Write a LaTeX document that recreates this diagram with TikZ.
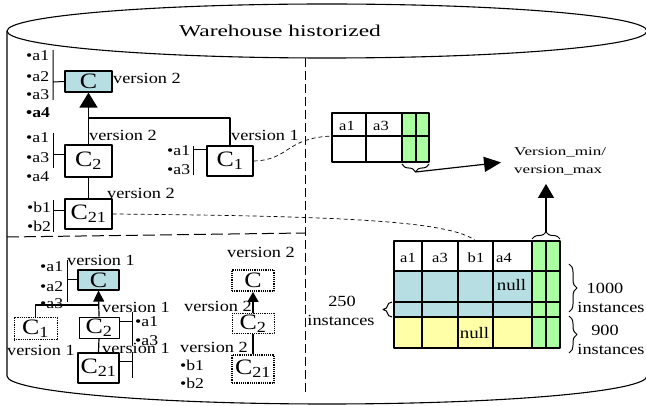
\documentclass[tikz,border=0pt]{standalone}
\usepackage{fontspec}
\setmainfont{Liberation Serif}[FakeStretch=1.18]
\newfontfamily\widefont{Liberation Serif}[FakeStretch=1.42]
\usetikzlibrary{arrows.meta, decorations.pathreplacing}

\definecolor{clscyan}{RGB}{183,222,226}
\definecolor{rowyellow}{RGB}{255,255,168}
\definecolor{vergreen}{RGB}{170,255,160}

\tikzset{
  cls/.style={draw, line width=1.2pt, inner sep=0pt, font=\fontsize{22}{22}\selectfont},
  txt/.style={anchor=west, inner sep=0pt, font=\fontsize{15.5}{15.5}\selectfont},
  attr/.style={anchor=west, inner sep=0pt, font=\fontsize{15}{15}\selectfont},
  cell/.style={inner sep=0pt, font=\fontsize{14}{14}\selectfont},
  bracket/.style={line width=1pt},
  link/.style={line width=1.2pt},
  dash line/.style={dash pattern=on 4pt off 3pt, line width=0.7pt},
  brc/.style={decorate, decoration={brace, amplitude=#1}, line width=1pt},
  brc/.default=7pt,
}

\begin{document}
\begin{tikzpicture}[x=1pt, y=-1pt, line join=round]
    \useasboundingbox (0,0) rectangle (646,406);

    % cylinder
    \draw[line width=1.1pt] (327,31) ellipse [x radius=320, y radius=27];
    \draw[line width=1.1pt] (7,31) -- (7,376) arc[start angle=180, end angle=0, x radius=320, y radius=28] -- (647,31);
    \node[font=\widefont\fontsize{16.5}{16.5}\selectfont, inner sep=0pt] (title) at (280,31) {Warehouse historized};

    % dividers
    \draw[line width=1pt, dash pattern=on 9pt off 4pt] (305,58) -- (305,395);
    \draw[line width=1pt, dash pattern=on 12pt off 5pt] (7,237) -- (305,233);

    % upper part: classes
    \node[cls, fill=clscyan, minimum width=47pt, minimum height=21pt] (cTop) at (88.5,81.5) {C};
    \node[cls, minimum width=47pt, minimum height=32pt] (c2Top) at (88.5,161) {C\textsubscript{2}};
    \node[cls, minimum width=46pt, minimum height=30pt] (c1Top) at (230,161) {C\textsubscript{1}};
    \node[cls, minimum width=47pt, minimum height=30pt] (c21Top) at (88.5,214) {C\textsubscript{21}};

    \coordinate (joinTop) at (88.5,118);
    \draw[line width=1.5pt, -{Triangle[width=18pt,length=15pt]}] (c2Top.north) -- (cTop.south);
    \draw[link] (c1Top.north) |- (joinTop);
    \draw[link] (c2Top.south) -- (c21Top.north);

    \draw[bracket] (53,50) -- (53,100) (53,82) -- (cTop.west);
    \draw[bracket] (53,133) -- (53,168) (53,155) -- (c2Top.west |- 0,155);
    \draw[bracket] (193,146) -- (193,175) (193,150) -- (c1Top.west |- 0,150);
    \draw[bracket] (53,200) -- (53,232) (53,211) -- (c21Top.west |- 0,211);

    \node[txt] (v2a) at (113,78) {version 2};
    \node[txt] (v2b) at (89,135) {version 2};
    \node[txt] (v1a) at (231,135) {version 1};
    \node[txt] (v2c) at (107,193) {version 2};

    \node[attr] (a1a) at (26,56) {\textbullet a1};
    \node[attr] (a2a) at (26,77) {\textbullet a2};
    \node[attr] (a3a) at (26,95) {\textbullet a3};
    \node[attr] (a4a) at (26,113) {\textbf{\textbullet a4}};
    \node[attr] (a1b) at (26,138) {\textbullet a1};
    \node[attr] (a3b) at (26,158) {\textbullet a3};
    \node[attr] (a4b) at (26,177) {\textbullet a4};
    \node[attr] (a1c) at (167,151) {\textbullet a1};
    \node[attr] (a3c) at (167,170) {\textbullet a3};
    \node[attr] (b1a) at (27,207) {\textbullet b1};
    \node[attr] (b2a) at (27,226) {\textbullet b2};

    % small table
    \fill[vergreen] (402,113) rectangle (429,162);
    \draw[line width=1.2pt] (332,113) rectangle (429,162) (332,136) -- (429,136);
    \foreach \x in {366,402,416}
        \draw[line width=1.2pt] (\x,113) -- (\x,162);
    \node[cell] (h1s) at (347,126) {a1};
    \node[cell] (h2s) at (381,126) {a3};

    % big table
    \fill[clscyan] (394,271) rectangle (532,317);
    \fill[rowyellow] (394,317) rectangle (532,348);
    \fill[vergreen] (532,241) rectangle (560,348);
    \draw[line width=1.5pt] (394,241) rectangle (560,348);
    \foreach \y in {271,302,317}
        \draw[line width=1.5pt] (394,\y) -- (560,\y);
    \foreach \x in {422,458,493,532,546}
        \draw[line width=1.5pt] (\x,241) -- (\x,348);
    \node[cell] (h1b) at (408,258) {a1};
    \node[cell] (h2b) at (440,258) {a3};
    \node[cell] (h3b) at (476,258) {b1};
    \node[cell] (h4b) at (504,258) {a4};
    \node[cell, font=\fontsize{16}{16}\selectfont] (nullA) at (511.5,285) {null};
    \node[cell, font=\fontsize{16}{16}\selectfont] (nullB) at (474.5,333) {null};

    % links to tables
    \coordinate (smallIn) at (332,136);
    \coordinate (bigIn) at (476,241);
    \draw[dash line] (c1Top.east) .. controls (290,160) and (285,138) .. (smallIn);
    \draw[dash line] (c21Top.east) .. controls (330,216) and (450,220) .. (bigIn);

    % version columns
    \node[font=\widefont\fontsize{12}{18}\selectfont, align=left, anchor=west, inner sep=0pt] (verT) at (514,161) {Version\_min/\\version\_max};
    \draw[brc=8pt] (429,164) -- (402,164);
    \draw[brc] (532,239) -- (560,239);
    \coordinate (brSmall) at (415.5,172);
    \coordinate (brBig) at (546,232);
    \draw[link, shorten >=13pt, -{Triangle[width=15pt,length=17pt]}] (brSmall) -- (verT.west);
    \draw[link, shorten >=9pt, -{Triangle[width=16pt,length=14pt]}] (brBig) -- (brBig |- verT.south);

    % instance counts
    \draw[brc=8pt] (569,264) -- (569,312);
    \draw[brc=8pt] (569,316) -- (569,353);
    \draw[brc=9pt] (392,317) -- (392,302);
    \node[txt, anchor=center] (n1000) at (605,288) {1000};
    \node[txt, anchor=center] (inst1) at (611,307) {instances};
    \node[txt, anchor=center] (n900) at (605,330) {900};
    \node[txt, anchor=center] (inst2) at (611,349) {instances};
    \node[txt, anchor=center] (n250) at (342,301) {250};
    \node[txt, anchor=center] (inst3) at (341,320) {instances};

    % lower part: classes
    \node[cls, fill=clscyan, minimum width=41pt, minimum height=20pt] (cLow) at (98.5,280) {C};
    \node[cls, densely dotted, line width=1pt, minimum width=43pt, minimum height=22pt] (c1Low) at (35.5,329) {C\textsubscript{1}};
    \node[cls, line width=0.8pt, minimum width=40pt, minimum height=21pt] (c2Low) at (99,327.5) {C\textsubscript{2}};
    \node[cls, line width=1.5pt, minimum width=41pt, minimum height=30pt] (c21Low) at (98.5,368) {C\textsubscript{21}};
    \node[cls, densely dotted, line width=1.8pt, minimum width=42pt, minimum height=21pt] (cDot) at (253,280.5) {C};
    \node[cls, densely dotted, line width=1pt, minimum width=42pt, minimum height=20pt] (c2Dot) at (253,323.5) {C\textsubscript{2}};
    \node[cls, densely dotted, line width=1.8pt, minimum width=42pt, minimum height=28pt] (c21Dot) at (253,369) {C\textsubscript{21}};

    \coordinate (joinLow) at (98.5,305);
    \draw[link, -{Triangle[width=11pt,length=11pt]}] (c2Low.north) -- (cLow.south);
    \draw[link] (joinLow) -| (c1Low.north);
    \draw[link] (c2Low.south) -- (c21Low.north);
    \draw[link, -{Triangle[width=11pt,length=10pt]}] (c2Dot.north) -- (cDot.south);
    \draw[link] (c21Dot.north) -- (c2Dot.south);

    \draw[bracket] (67,260) -- (67,302) (67,280) -- (cLow.west);
    \draw[bracket] (132,312) -- (132,346) (c2Low.east |- 0,322) -- (132,322);
    \draw[bracket] (132,352) -- (132,378) (c21Low.east |- 0,362) -- (132,362);

    \node[txt] (v1b) at (67,260) {version 1};
    \node[txt] (v1c) at (102,307) {version 1};
    \node[txt] (v1d) at (7,350) {version 1};
    \node[txt] (v1e) at (102,348) {version 1};
    \node[txt] (v2d) at (227,252) {version 2};
    \node[txt] (v2e) at (184,306) {version 2};
    \node[txt] (v2f) at (180,347) {version 2};

    \node[attr] (a1d) at (40,267) {\textbullet a1};
    \node[attr] (a2d) at (40,287) {\textbullet a2};
    \node[attr] (a3d) at (40,304) {\textbullet a3};
    \node[attr] (a1e) at (135,322) {\textbullet a1};
    \node[attr] (a3e) at (135,341) {\textbullet a3};
    \node[attr] (b1d) at (180,365) {\textbullet b1};
    \node[attr] (b2d) at (180,383) {\textbullet b2};
\end{tikzpicture}
\end{document}
